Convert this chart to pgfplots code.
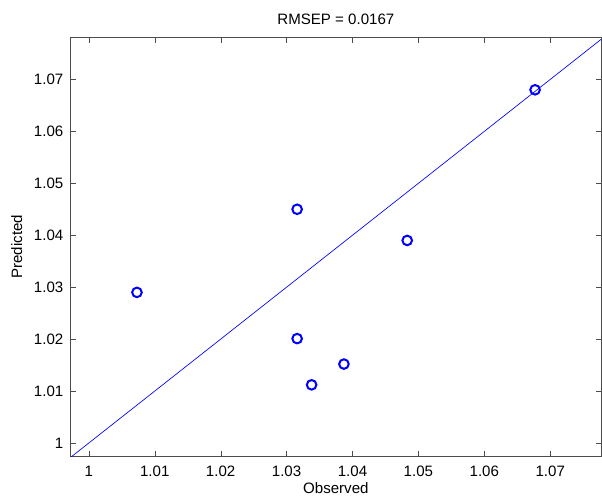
\documentclass[border=0pt]{standalone}
\usepackage{pgfplots}
\pgfplotsset{compat=1.18}
\usetikzlibrary{calc}
\usepackage{fontspec}
\setmainfont{Liberation Sans}

\begin{document}
\begin{tikzpicture}
    \begin{axis}[
        scale only axis,
        width=397.5pt,
        height=314pt,
        xmin=0.99725, xmax=1.0777,
        ymin=0.99745, ymax=1.0781,
        xtick={1,1.01,...,1.07},
        ytick={1,1.01,...,1.07},
        tick align=inside,
        major tick length=4pt,
        axis line style={black!70},
        tick style={black!70},
        /pgf/number format/assume math mode=true,
        /pgf/number format/precision=2,
        ticklabel style={font=\fontsize{11.3}{13}\selectfont},
        yticklabel style={xshift=-2pt},
        xticklabel style={yshift=-3.5pt},
        label style={font=\fontsize{11.3}{13}\selectfont},
        title style={font=\fontsize{11.3}{13}\selectfont, yshift=0pt},
        title={RMSEP = 0.0167},
        xlabel={Observed},
        ylabel={Predicted},
        xlabel style={yshift=2pt},
        ylabel style={yshift=2pt},
        clip=true
    ]
        % 1:1 line
        \addplot[blue, line width=0.5pt] coordinates {
            (0.99725, 0.99725)
            (1.0781, 1.0781)
        };
        % samples
        \addplot[only marks, mark=o, blue, mark size=3.6pt, line width=1.5pt] coordinates {
            (1.0073, 1.0290)
            (1.0316, 1.0450)
            (1.0316, 1.0201)
            (1.0338, 1.0112)
            (1.0387, 1.0152)
            (1.0483, 1.0390)
            (1.0677, 1.0680)
        };
    \end{axis}
    \pgfresetboundingbox
    \useasboundingbox ($(current axis.south west)+(-53pt,-30.75pt)$) rectangle ($(current axis.north east)+(0.75pt,28pt)$);
\end{tikzpicture}
\end{document}
